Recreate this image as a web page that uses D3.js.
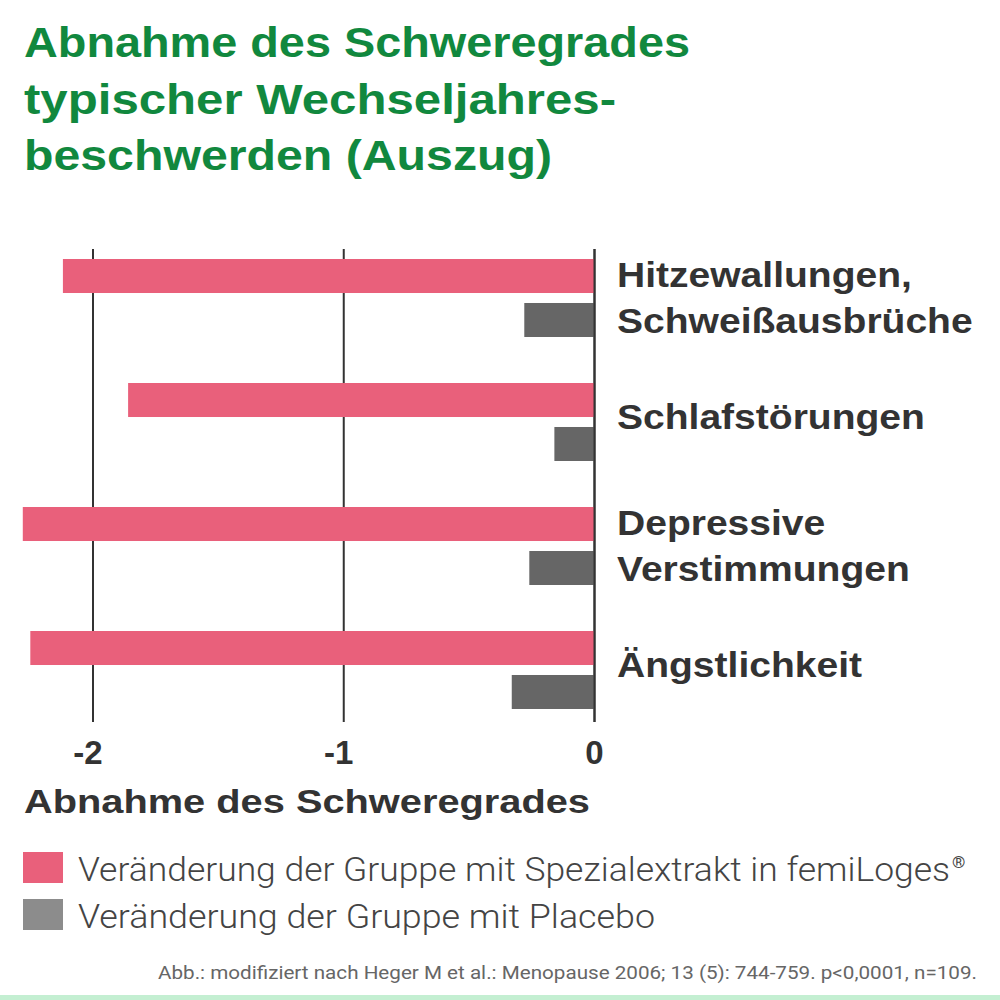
<!DOCTYPE html>
<html>
	<head>
		<meta charset="utf-8" />
		<title>Abnahme des Schweregrades</title>
		<script src="https://cdn.jsdelivr.net/npm/d3@7"></script>
		<style>
			body { margin:0; background:#fff; }
		</style>
	</head>
	<body>
		<svg width="1000" height="1000"></svg>
		<script>
			// Daten
			var categories = ['Hitzewallungen,\nSchweißausbrüche', 'Schlafstörungen', 'Depressive\nVerstimmungen', 'Ängstlichkeit']
			var series = ['femiLoges', 'Placebo']
			var femiValues = [-2.12, -1.86, -2.28, -2.25]
			var placeboValues = [-0.28, -0.16, -0.26, -0.33]
			var ticks = [-2, -1, 0]
			var legendLabels = ['Veränderung der Gruppe mit Spezialextrakt in femiLoges', 'Veränderung der Gruppe mit Placebo']
			var titleLines = ['Abnahme des Schweregrades', 'typischer Wechseljahres-', 'beschwerden (Auszug)']

			var colors = {femiLoges:'#e9607b', Placebo:'#666666'}
			var legendColors = ['#e9607b', '#8c8c8c']

			var svg = d3.select('svg')
			var bold = 'Liberation Sans, Arial, sans-serif'

			// Titel
			svg.selectAll('.title')
				.data(titleLines)
				.enter()
				.append('text')
				.attr('x', 24)
				.attr('y', (d,i) => 57 + i*56.5)
				.attr('font-family', bold)
				.attr('font-weight', 'bold')
				.attr('font-size', '43px')
				.attr('fill', '#11883e')
				.attr('textLength', (d,i) => [666, 592, 528][i])
				.attr('lengthAdjust', 'spacingAndGlyphs')
				.text(d => d)

			var xScale = d3.scaleLinear()
				.domain([-2, 0])
				.range([93, 594.5])

			var yScale = d3.scaleBand()
				.domain(categories)
				.range([236, 732])
				.paddingInner(0.371)
				.paddingOuter(0.1855)

			var ySub = d3.scaleBand()
				.domain(series)
				.range([0, yScale.bandwidth()])
				.paddingInner(0.227)

			// Gitterlinien
			svg.selectAll('.grid')
				.data(ticks)
				.enter()
				.append('line')
				.attr('x1', d => xScale(d))
				.attr('x2', d => xScale(d))
				.attr('y1', 249)
				.attr('y2', 722)
				.attr('stroke', '#333')
				.attr('stroke-width', 2)

			// Balken
			var gs = svg.selectAll('.cat')
				.data(categories)
				.enter()
				.append('g')
				.attr('transform', d => `translate(0,${yScale(d)})`)

			gs.selectAll('rect')
				.data((d,i) => [{s:'femiLoges', v:femiValues[i]}, {s:'Placebo', v:placeboValues[i]}])
				.enter()
				.append('rect')
				.attr('x', d => xScale(d.v))
				.attr('y', d => ySub(d.s))
				.attr('width', d => xScale(0) - xScale(d.v))
				.attr('height', ySub.bandwidth())
				.attr('fill', d => colors[d.s])

			// Nulllinie über den Balken
			svg.append('line')
				.attr('x1', xScale(0)).attr('x2', xScale(0))
				.attr('y1', 249).attr('y2', 722)
				.attr('stroke', '#333').attr('stroke-width', 2)

			// Kategorien
			gs.each(function(d){
				var lines = d.split('\n')
				var mid = yScale.bandwidth()/2
				var offs = lines.length == 2 ? [-11, 35] : [7]
				d3.select(this).selectAll('text')
					.data(lines)
					.enter()
					.append('text')
					.attr('x', 617)
					.attr('y', (l,i) => mid + offs[i])
					.attr('font-family', bold)
					.attr('font-weight', 'bold')
					.attr('font-size', '35px')
					.attr('fill', '#333')
					.text(l => l)
					.each(function(){
						// etwas breiter laufen lassen (Helvetica-artig)
						var w = this.getComputedTextLength()
						d3.select(this).attr('textLength', w*1.115).attr('lengthAdjust', 'spacingAndGlyphs')
					})
			})

			// Achse
			svg.selectAll('.tick')
				.data(ticks)
				.enter()
				.append('text')
				.attr('x', d => xScale(d) - (d < 0 ? 5 : 0))
				.attr('y', 764)
				.attr('text-anchor', 'middle')
				.attr('font-family', bold)
				.attr('font-weight', 'bold')
				.attr('font-size', '33px')
				.attr('fill', '#333')
				.text(d => d < 0 ? '-' + Math.abs(d) : d)

			svg.append('text')
				.attr('x', 24)
				.attr('y', 813)
				.attr('font-family', bold)
				.attr('font-weight', 'bold')
				.attr('font-size', '34px')
				.attr('fill', '#333')
				.attr('textLength', 566)
				.attr('lengthAdjust', 'spacingAndGlyphs')
				.text('Abnahme des Schweregrades')

			// Legende
			var lg = svg.selectAll('.legend')
				.data(legendLabels)
				.enter()
				.append('g')
				.attr('transform', (d,i) => `translate(0,${852 + i*47})`)

			lg.append('rect')
				.attr('x', 23)
				.attr('y', 0)
				.attr('width', 40)
				.attr('height', 31)
				.attr('fill', (d,i) => legendColors[i])

			lg.append('text')
				.attr('x', 78)
				.attr('y', 29)
				.attr('font-family', 'Roboto, sans-serif')
				.attr('font-weight', 300)
				.attr('font-size', '33px')
				.attr('fill', '#444')
				.attr('textLength', (d,i) => [872, 577][i])
				.attr('lengthAdjust', 'spacingAndGlyphs')
				.text(d => d)

			svg.append('text')
				.attr('x', 952)
				.attr('y', 868)
				.attr('font-family', 'Roboto, sans-serif')
				.attr('font-size', '17px')
				.attr('fill', '#444')
				.text('®')

			// Quelle
			svg.append('text')
				.attr('x', 977)
				.attr('y', 979)
				.attr('text-anchor', 'end')
				.attr('font-family', 'Roboto, sans-serif')
				.attr('font-size', '19px')
				.attr('fill', '#666')
				.attr('textLength', 819)
				.attr('lengthAdjust', 'spacingAndGlyphs')
				.text('Abb.: modifiziert nach Heger M et al.: Menopause 2006; 13 (5): 744-759. p<0,0001, n=109.')

			svg.append('rect')
				.attr('x', 0).attr('y', 995)
				.attr('width', 1000).attr('height', 5)
				.attr('fill', '#c4efd2')
		</script>
	</body>
</html>
